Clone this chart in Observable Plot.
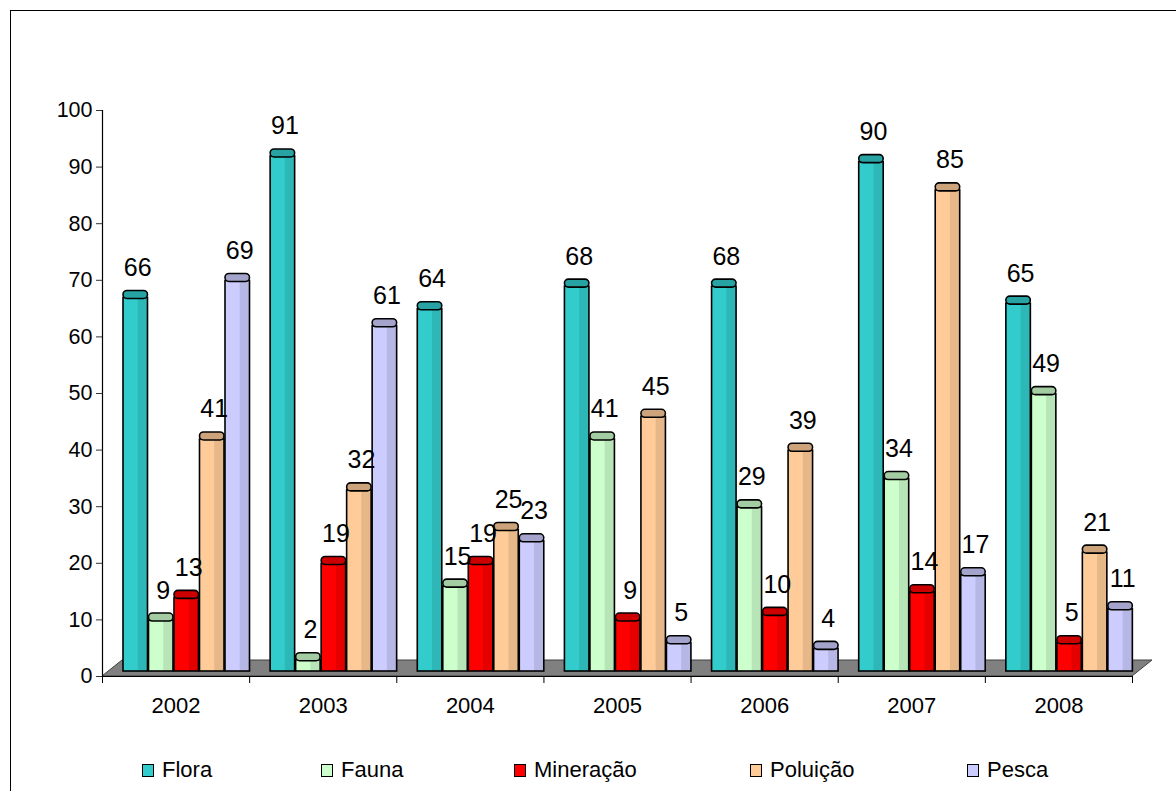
<!DOCTYPE html>
<html><head><meta charset="utf-8">
<script src="https://cdn.jsdelivr.net/npm/d3@7"></script>
<script src="https://cdn.jsdelivr.net/npm/@observablehq/plot@0.6"></script>
<style>
body{margin:0;background:#fff;font-family:"Liberation Sans",Arial,sans-serif;}
#wrap{position:relative;width:1176px;height:791px;overflow:hidden;background:#fff;}
#frame{position:absolute;left:10px;top:10px;width:1200px;height:830px;border:1.5px solid #000;box-sizing:border-box;z-index:2;}
#chart{position:absolute;left:0;top:0;}
#legend{position:absolute;top:758px;left:0;width:1176px;height:24px;}
.item{position:absolute;top:0;display:flex;align-items:center;font-size:22px;height:24px;color:#000;}
.sw{width:10px;height:11px;border:1.5px solid #000;margin-right:8px;}
</style></head>
<body><div id="wrap"><div id="chart"></div><div id="legend"></div><div id="frame"></div></div>
<script>
const years = ["2002","2003","2004","2005","2006","2007","2008"];
const seriesNames = ["Flora","Fauna","Mineração","Poluição","Pesca"];
const flora     = [66, 91, 64, 68, 68, 90, 65];
const fauna     = [ 9,  2, 15, 41, 29, 34, 49];
const mineracao = [13, 19, 19,  9, 10, 14,  5];
const poluicao  = [41, 32, 25, 45, 39, 85, 21];
const pesca     = [69, 61, 23,  5,  4, 17, 11];
const yTicks = [0,10,20,30,40,50,60,70,80,90,100];
const colors = ["#33CCCC","#CCFFCC","#FF0000","#FFCC99","#CCCCFF"];

const seriesValues = [flora, fauna, mineracao, poluicao, pesca];
// layout of bars inside each year band (fractions of the band)
const start = 0.1427, step = 0.1733, bw = 0.1665;
const table = [];
years.forEach((yr, i) => seriesValues.forEach((vals, j) => {
  const x1 = i + start + j * step;
  table.push({year: yr, series: seriesNames[j], value: vals[i], x1, x2: x1 + bw, xs: x1 + bw * 0.6, xc: x1 + bw / 2});
}));
const boundaries = d3.range(0, years.length + 1);
const centers = years.map((_, i) => i + 0.5);

function floor(index, scales) {
  const {x, y} = scales;
  const x0 = x(0), x1 = x(years.length), y0 = y(0);
  const ddx = 20, ddy = 16;
  const g = d3.create("svg:g");
  g.append("path")
    .attr("d", `M${x0},${y0}L${x1},${y0}L${x1+ddx},${y0-ddy}L${x0+ddx},${y0-ddy}Z`)
    .attr("fill", "#808080").attr("stroke", "#404040").attr("stroke-width", 1);
  return g.node();
}

const barDy = -5;
const chart = Plot.plot({
  width: 1176, height: 720,
  marginLeft: 102, marginRight: 44, marginTop: 110, marginBottom: 44,
  style: {fontFamily: "Liberation Sans, Arial, sans-serif", background: "transparent", color: "#000"},
  x: {type: "linear", domain: [0, years.length], axis: null},
  y: {type: "linear", domain: [0, 100], axis: null},
  color: {domain: seriesNames, range: colors},
  marks: [
    floor,
    Plot.ruleY([0], {stroke: "#000", strokeWidth: 1.2}),
    Plot.ruleX([0], {y1: 0, y2: 100, stroke: "#000", strokeWidth: 1.2}),
    Plot.axisX({ticks: boundaries, tickSize: 7, tickFormat: () => "", stroke: "#000", label: null}),
    Plot.axisX({ticks: centers, tickSize: 0, tickPadding: 21, tickFormat: d => years[Math.floor(d)], fontSize: 22, fill: "#000", label: null}),
    Plot.axisY({ticks: yTicks, tickSize: 6, tickPadding: 4, fontSize: 21.5, fill: "#000", stroke: "#333", label: null}),
    // bar faces
    Plot.rect(table, {x1: "x1", x2: "x2", y1: 0, y2: "value", fill: "series", dy: barDy}),
    Plot.rect(table, {x1: "xs", x2: "x2", y1: 0, y2: "value", fill: "#000", fillOpacity: 0.1, dy: barDy}),
    Plot.rect(table, {x1: "x1", x2: "x2", y1: 0, y2: "value", fill: "none", stroke: "#000", strokeWidth: 1.6, dy: barDy}),
    // top caps
    Plot.rect(table, {x1: "x1", x2: "x2", y1: "value", y2: "value", insetTop: -4, insetBottom: -4, rx: 4, fill: "series", dy: barDy - 3}),
    Plot.rect(table, {x1: "x1", x2: "x2", y1: "value", y2: "value", insetTop: -4, insetBottom: -4, rx: 4, fill: "#000", fillOpacity: 0.2, stroke: "#000", strokeWidth: 1.6, dy: barDy - 3}),
    // value labels
    Plot.text(table, {x: "xc", y: "value", text: d => String(d.value), dy: -35, dx: 2, fontSize: 25, fill: "#000"})
  ]
});
document.getElementById("chart").appendChild(chart);

const legendLeft = [142, 321, 514, 750, 967];
const legend = document.getElementById("legend");
seriesNames.forEach((name, j) => {
  const item = document.createElement("div");
  item.className = "item";
  item.style.left = legendLeft[j] + "px";
  const sw = document.createElement("span");
  sw.className = "sw";
  sw.style.background = colors[j];
  item.appendChild(sw);
  item.appendChild(document.createTextNode(name));
  legend.appendChild(item);
});
</script>
</body></html>
